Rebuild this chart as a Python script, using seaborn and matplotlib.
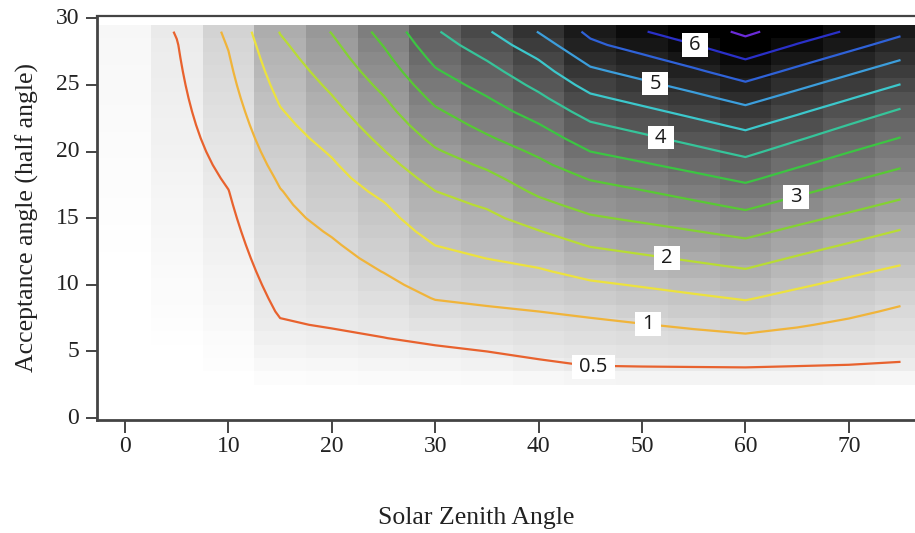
import numpy as np
import pandas as pd
import matplotlib
matplotlib.use("Agg")
import matplotlib.pyplot as plt
import matplotlib.path as mpath
import seaborn as sns

# Solar zenith angle columns (deg) and acceptance half-angle rows (deg)
sza = [0, 5, 10, 15, 20, 25, 30, 35, 40, 45, 50, 55, 60, 65, 70, 75]
acceptance = np.arange(30)

# Contour levels and their colours
levels = [0.5, 1.0, 1.5, 2.0, 2.5, 3.0, 3.5, 4.0, 4.5, 5.0, 5.5, 6.0, 6.5]
level_colors = ["#E8622E", "#F0B43A", "#ECE23E", "#B8DC34", "#84D232", "#58C934",
                "#3CC542", "#36C49A", "#3CC8CC", "#3C9EDC", "#2F62D8", "#2A30C8",
                "#6A2AD8"]

# Acceptance angle at which each level is reached, per zenith column (nan = not reached)
nan = np.nan
cross_0_5 = [nan, 28.8, 17.2, 7.35, 6.64, 6.05, 5.47, 5.0, 4.31, 3.87, 3.78, 3.75, 3.73, 3.85, 4.0, 4.12]
cross_1_0 = [nan, nan, 27.6, 17.35, 13.6, 10.9, 8.85, 8.4, 8.0, 7.6, 7.1, 6.7, 6.35, 6.8, 7.5, 8.5]
cross_1_5 = [nan, nan, nan, 23.4, 19.6, 16.3, 12.95, 11.96, 11.3, 10.35, 9.85, 9.35, 8.85, 9.73, 10.62, 11.5]
cross_2_0 = [nan, nan, nan, 28.9, 24.24, 20.14, 17.05, 15.73, 14.1, 12.85, 12.3, 11.75, 11.2, 12.2, 13.15, 14.15]
cross_2_5 = [nan, nan, nan, nan, 28.9, 24.2, 20.3, 18.65, 16.55, 15.25, 14.65, 14.07, 13.5, 14.47, 15.43, 16.4]
cross_3_0 = [nan, nan, nan, nan, nan, 27.88, 23.4, 21.28, 19.6, 17.87, 17.12, 16.37, 15.62, 16.66, 17.71, 18.75]
cross_3_5 = [nan, nan, nan, nan, nan, nan, 26.3, 24.14, 22.1, 20.0, 19.22, 18.45, 17.67, 18.8, 19.94, 21.07]
cross_4_0 = [nan, nan, nan, nan, nan, nan, nan, 26.83, 24.45, 22.25, 21.36, 20.46, 19.57, 20.8, 22.02, 23.25]
cross_4_5 = [nan, nan, nan, nan, nan, nan, nan, nan, 26.9, 24.37, 23.45, 22.54, 21.62, 22.76, 23.91, 25.05]
cross_5_0 = [nan, nan, nan, nan, nan, nan, nan, nan, 28.9, 26.37, 25.41, 24.46, 23.5, 24.62, 25.75, 26.87]
cross_5_5 = [nan, nan, nan, nan, nan, nan, nan, nan, nan, 28.37, 27.33, 26.29, 25.25, 26.39, 27.53, 28.67]
cross_6_0 = [nan, nan, nan, nan, nan, nan, nan, nan, nan, nan, nan, 28.05, 26.92, 28.08, nan, nan]
cross_6_5 = [nan, nan, nan, nan, nan, nan, nan, nan, nan, nan, nan, nan, 28.62, nan, nan, nan]
crossings = [cross_0_5, cross_1_0, cross_1_5, cross_2_0, cross_2_5, cross_3_0, cross_3_5,
             cross_4_0, cross_4_5, cross_5_0, cross_5_5, cross_6_0, cross_6_5]

# Value in the top row (29 deg) of each column
top_value = [0.2, 0.52, 1.08, 2.02, 2.52, 3.15, 3.95, 4.45, 5.02, 5.6, 5.97, 6.25, 6.6, 6.25, 5.95, 5.6]
# Acceptance angle below which each column stays at zero
zero_below = [10.0, 4.0, 2.5, 2.0, 2.0, 2.0, 2.0, 2.0, 2.0, 2.0, 2.0, 2.0, 2.0, 2.0, 2.0, 2.0]

# Contour labels and where on their line they sit (zenith, acceptance)
label_text = ["0.5", "1", "2", "3", "4", "5", "6"]
label_sza = [45.3, 50.6, 52.4, 64.9, 51.8, 51.3, 55.1]
label_acc = [3.85, 7.05, 12.0, 16.6, 21.05, 25.1, 28.0]

xticks = [0, 10, 20, 30, 40, 50, 60, 70]
yticks = [0, 5, 10, 15, 20, 25, 30]

# Build the grid column by column from the level crossings
grid = np.empty((len(acceptance), len(sza)))
for j in range(len(sza)):
    ys, zs = [0.0, zero_below[j]], [0.0, 0.0]
    for lev, cr in zip(levels, crossings):
        if not np.isnan(cr[j]):
            ys.append(cr[j])
            zs.append(lev)
    ys.append(29.0)
    zs.append(top_value[j])
    grid[:, j] = np.interp(acceptance, ys, zs)

df = pd.DataFrame(grid, index=acceptance, columns=sza)

sns.set_theme(style="white")
plt.rcParams["font.family"] = ["Liberation Serif", "DejaVu Serif"]

fig = plt.figure(figsize=(9.15, 5.33), dpi=100)
ax = fig.add_axes([0.1063, 0.2126, 0.8937, 0.7583])

sns.heatmap(df, ax=ax, cmap="gray_r", vmin=0, vmax=6.25, cbar=False)


def to_col(v):
    return np.asarray(v, dtype=float) / 5.0 + 0.5


def to_row(v):
    return np.asarray(v, dtype=float) + 0.5


cs = ax.contour(to_col(sza), to_row(acceptance), grid, levels=levels,
                colors=level_colors, linewidths=1.6, zorder=3)


def label_box(x0, y0, width, height, mutation_size):
    px = 0.36 * mutation_size
    py = 0.09 * mutation_size
    verts = [(x0 - px, y0 - py), (x0 + width + px, y0 - py),
             (x0 + width + px, y0 + height + py), (x0 - px, y0 + height + py),
             (x0 - px, y0 - py)]
    return mpath.Path(verts, closed=True)


for txt, xs, ya in zip(label_text, label_sza, label_acc):
    ax.text(to_col(xs), to_row(ya), txt, ha="center", va="center",
            fontsize=14.5, color="#1a1a1a", family=["Open Sans", "DejaVu Sans"],
            zorder=5, bbox=dict(boxstyle=label_box, facecolor="white", edgecolor="none"))

ax.set_xlim(to_col(-2.69), to_col(76.4))
ax.set_ylim(to_row(-0.12), to_row(30.21))

ax.set_xticks(to_col(xticks))
ax.set_xticklabels([str(v) for v in xticks], rotation=0)
ax.set_yticks(to_row(yticks))
ax.set_yticklabels([str(v) for v in yticks], rotation=0)

ax.tick_params(axis="x", direction="out", length=9, width=1.4, color="#444444",
               labelsize=17, labelcolor="#222222", pad=3, bottom=True)
ax.tick_params(axis="y", direction="out", length=8, width=1.4, color="#444444",
               labelsize=17, labelcolor="#222222", pad=5, left=True)

for side in ["left", "bottom", "top"]:
    ax.spines[side].set_visible(True)
    ax.spines[side].set_color("#444444")
ax.spines["left"].set_linewidth(2.0)
ax.spines["bottom"].set_linewidth(2.0)
ax.spines["top"].set_linewidth(1.6)
ax.spines["right"].set_visible(False)

ax.set_xlabel("Solar Zenith Angle", fontsize=18.5, color="#222222")
ax.set_ylabel("Acceptance angle (half angle)", fontsize=18.5, color="#222222")
ax.xaxis.set_label_coords(0.463, -0.215)
ax.yaxis.set_label_coords(-0.071, 0.5)

fig.savefig("out.png", dpi=100)
